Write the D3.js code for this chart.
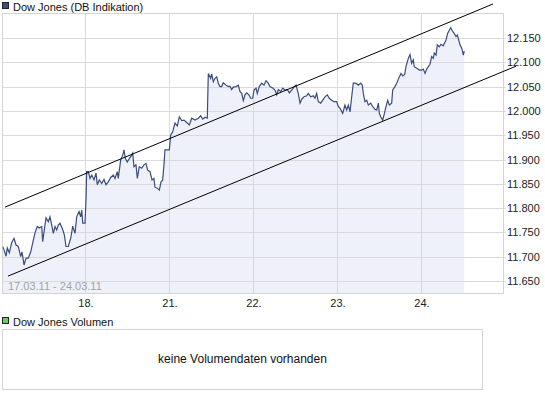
<!DOCTYPE html>
<html>
<head>
    <meta charset="utf-8">
    <style>
        body { margin: 0; background: #fff; }
        text { font-family: "Liberation Sans", Arial, sans-serif; }
    </style>
</head>
<body>
    <svg width="545" height="398"></svg>
    <script src="https://d3js.org/d3.v7.min.js"></script>
    <script>
        // trading-day offset (0 = 17.03.) and index level
        let dowSeries = [
            [0.020, 11721], [0.036, 11714], [0.060, 11701], [0.075, 11718], [0.099, 11708],
            [0.127, 11729], [0.155, 11738], [0.179, 11724], [0.206, 11721], [0.235, 11700],
            [0.250, 11710], [0.274, 11683], [0.298, 11697], [0.325, 11697], [0.354, 11710],
            [0.377, 11728], [0.405, 11749], [0.432, 11762], [0.456, 11759], [0.485, 11762],
            [0.496, 11731], [0.512, 11751], [0.536, 11780], [0.563, 11772], [0.583, 11782],
            [0.604, 11765], [0.623, 11748], [0.643, 11762], [0.663, 11755], [0.682, 11765],
            [0.702, 11769], [0.730, 11758], [0.754, 11745], [0.774, 11721], [0.801, 11721],
            [0.830, 11738], [0.854, 11763], [0.881, 11748], [0.901, 11782], [0.929, 11793],
            [0.949, 11782], [0.961, 11796], [0.973, 11769], [1.000, 11769], [1.012, 11817],
            [1.020, 11875], [1.039, 11875], [1.060, 11861], [1.080, 11868], [1.107, 11858],
            [1.131, 11872], [1.146, 11848], [1.170, 11858], [1.199, 11851], [1.226, 11859],
            [1.250, 11848], [1.277, 11854], [1.306, 11863], [1.337, 11868], [1.357, 11861],
            [1.385, 11875], [1.396, 11861], [1.425, 11899], [1.449, 11909], [1.464, 11920],
            [1.480, 11902], [1.504, 11895], [1.527, 11902], [1.556, 11909], [1.568, 11913],
            [1.583, 11885], [1.607, 11889], [1.623, 11861], [1.646, 11885], [1.675, 11882],
            [1.702, 11889], [1.726, 11892], [1.746, 11878], [1.774, 11875], [1.798, 11858],
            [1.821, 11861], [1.833, 11843], [1.861, 11841], [1.885, 11837], [1.905, 11854],
            [1.925, 11858], [1.940, 11889], [1.952, 11920], [2.004, 11920], [2.020, 11950],
            [2.044, 11957], [2.071, 11975], [2.099, 11969], [2.123, 11988], [2.151, 11980],
            [2.179, 11981], [2.211, 11976], [2.242, 11971], [2.270, 11985], [2.310, 11981],
            [2.349, 11985], [2.377, 11990], [2.401, 11983], [2.429, 11987], [2.456, 11985],
            [2.468, 12077], [2.496, 12067], [2.508, 12076], [2.527, 12060], [2.548, 12067],
            [2.568, 12070], [2.587, 12057], [2.607, 12050], [2.627, 12050], [2.646, 12058],
            [2.679, 12053], [2.706, 12050], [2.726, 12051], [2.746, 12044], [2.765, 12049],
            [2.798, 12050], [2.825, 12053], [2.845, 12040], [2.865, 12036], [2.885, 12021],
            [2.905, 12033], [2.925, 12037], [2.952, 12033], [2.973, 12026], [2.996, 12026],
            [3.012, 12043], [3.036, 12047], [3.051, 12036], [3.075, 12050], [3.104, 12057],
            [3.131, 12053], [3.155, 12062], [3.182, 12057], [3.202, 12050], [3.235, 12047],
            [3.262, 12043], [3.282, 12033], [3.301, 12044], [3.330, 12040], [3.354, 12047],
            [3.381, 12043], [3.408, 12044], [3.432, 12037], [3.461, 12043], [3.488, 12049],
            [3.512, 12053], [3.539, 12036], [3.560, 12016], [3.580, 12024], [3.607, 12029],
            [3.639, 12031], [3.658, 12036], [3.687, 12029], [3.718, 12031], [3.738, 12026],
            [3.758, 12036], [3.777, 12019], [3.806, 12016], [3.830, 12022], [3.857, 12029],
            [3.885, 12033], [3.908, 12026], [3.937, 12022], [3.964, 12019], [3.996, 12019],
            [4.015, 12009], [4.036, 12005], [4.068, 11995], [4.095, 12012], [4.115, 12002],
            [4.135, 12012], [4.155, 11998], [4.175, 12029], [4.194, 12057], [4.226, 12057],
            [4.254, 12053], [4.282, 12057], [4.301, 12053], [4.313, 12036], [4.333, 12019],
            [4.354, 12022], [4.373, 12012], [4.401, 12016], [4.425, 12009], [4.452, 12003],
            [4.473, 12002], [4.492, 12016], [4.504, 11995], [4.520, 11988], [4.544, 11981],
            [4.560, 11992], [4.583, 12009], [4.604, 12022], [4.623, 12012], [4.651, 12016],
            [4.663, 12043], [4.690, 12050], [4.711, 12057], [4.742, 12070], [4.762, 12077],
            [4.782, 12072], [4.806, 12075], [4.821, 12091], [4.849, 12108], [4.869, 12116],
            [4.889, 12098], [4.908, 12105], [4.920, 12091], [4.949, 12088], [4.980, 12084],
            [5.008, 12084], [5.027, 12086], [5.048, 12077], [5.068, 12086], [5.087, 12091],
            [5.107, 12096], [5.127, 12112], [5.146, 12108], [5.158, 12119], [5.179, 12115],
            [5.194, 12136], [5.218, 12132], [5.238, 12137], [5.265, 12134], [5.286, 12142],
            [5.298, 12146], [5.318, 12160], [5.337, 12166], [5.354, 12171], [5.369, 12166],
            [5.393, 12160], [5.417, 12153], [5.432, 12156], [5.449, 12146], [5.464, 12136],
            [5.485, 12129], [5.504, 12115], [5.515, 12123]
        ];
        // trend channel, [day offset, level] at both ends
        let channelUpper = [[0.048, 11802], [5.857, 12220]];
        let channelLower = [[0.083, 11660], [6.131, 12092]];

        let dayTicks = [1, 2, 3, 4, 5];
        let dayLabels = ["18.", "21.", "22.", "23.", "24."];
        let levelTicks = d3.range(11650, 12151, 50);
        let rangeLabel = "17.03.11 - 24.03.11";
        let priceTitle = "Dow Jones (DB Indikation)";
        let volumeTitle = "Dow Jones Volumen";
        let volumeNote = "keine Volumendaten vorhanden";

        let plot = {left: 2.5, top: 13.5, right: 503.5, bottom: 293.5};
        let x = d3.scaleLinear().domain([0, 6]).range([1, 505]);
        let y = d3.scaleLinear().domain([11650, 12150]).range([281, 38]);
        let deFormat = d3.formatLocale({decimal: ",", thousands: ".", grouping: [3], currency: ["", " €"]}).format(",");

        let svg = d3.select("svg");

        // header
        svg.append("rect").attr("x", 2.5).attr("y", 2.5).attr("width", 6).attr("height", 6)
            .attr("fill", "#3d4f7f").attr("stroke", "#222");
        svg.append("text").attr("x", 13).attr("y", 10.5).attr("font-size", 11).attr("fill", "#111")
            .text(priceTitle);

        svg.append("clipPath").attr("id", "plotClip").append("rect")
            .attr("x", plot.left).attr("y", plot.top)
            .attr("width", plot.right - plot.left).attr("height", plot.bottom - plot.top);

        let area = d3.area().x(d => x(d[0])).y0(plot.bottom).y1(d => y(d[1]));
        let line = d3.line().x(d => x(d[0])).y(d => y(d[1]));

        svg.append("path").datum(dowSeries).attr("clip-path", "url(#plotClip)")
            .attr("d", area).attr("fill", "#eef1fa");

        // grid
        svg.append("g").selectAll("line").data(levelTicks).enter().append("line")
            .attr("x1", plot.left).attr("x2", plot.right + 2)
            .attr("y1", d => Math.round(y(d)) + 0.5).attr("y2", d => Math.round(y(d)) + 0.5)
            .attr("stroke", "#dadada");
        svg.append("g").selectAll("line").data(dayTicks).enter().append("line")
            .attr("x1", d => Math.round(x(d)) + 0.5).attr("x2", d => Math.round(x(d)) + 0.5)
            .attr("y1", plot.top).attr("y2", plot.bottom)
            .attr("stroke", "#dadada");

        svg.append("rect").attr("x", plot.left).attr("y", plot.top)
            .attr("width", plot.right - plot.left).attr("height", plot.bottom - plot.top)
            .attr("fill", "none").attr("stroke", "#d4d4d4");

        svg.append("path").datum(dowSeries).attr("clip-path", "url(#plotClip)")
            .attr("d", line).attr("fill", "none").attr("stroke", "#3b4d7c").attr("stroke-width", 1.2);

        svg.append("text").attr("x", 8).attr("y", 290).attr("font-size", 11).attr("fill", "#a3a3a3")
            .text(rangeLabel);

        [channelUpper, channelLower].forEach(c => {
            svg.append("path").datum(c).attr("d", line)
                .attr("fill", "none").attr("stroke", "#000").attr("stroke-width", 1);
        });

        // axes labels
        svg.append("g").selectAll("text").data(levelTicks).enter().append("text")
            .attr("x", 507).attr("y", d => y(d) + 4).attr("font-size", 11).attr("fill", "#222")
            .text(d => deFormat(d));
        svg.append("g").selectAll("text").data(dayTicks).enter().append("text")
            .attr("x", d => x(d) + 1).attr("y", 307).attr("font-size", 11).attr("fill", "#222")
            .attr("text-anchor", "middle")
            .text((d, i) => dayLabels[i]);

        // volume panel
        svg.append("rect").attr("x", 2.5).attr("y", 317.5).attr("width", 6).attr("height", 6)
            .attr("fill", "#66cc66").attr("stroke", "#222");
        svg.append("text").attr("x", 13).attr("y", 325.5).attr("font-size", 11).attr("fill", "#111")
            .text(volumeTitle);
        svg.append("rect").attr("x", 2.5).attr("y", 329.5).attr("width", 480).attr("height", 60)
            .attr("fill", "none").attr("stroke", "#d4d4d4");
        svg.append("text").attr("x", 242.5).attr("y", 363).attr("font-size", 12).attr("fill", "#111")
            .attr("text-anchor", "middle").text(volumeNote);
    </script>
</body>
</html>
